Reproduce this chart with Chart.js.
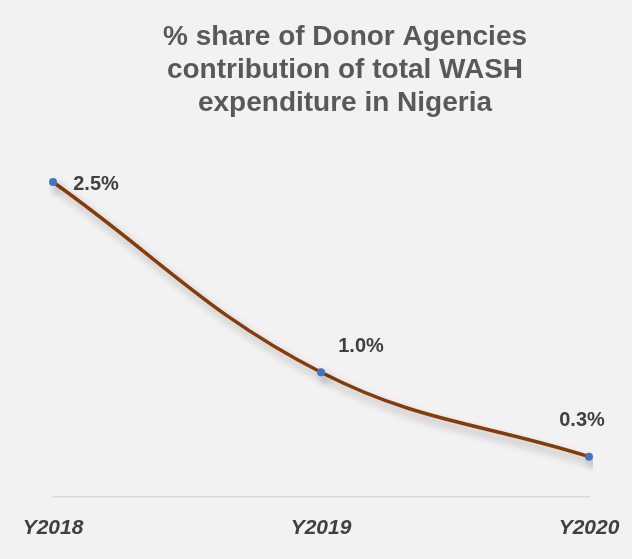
<!DOCTYPE html>
<html lang="en">
<head>
    <meta charset="UTF-8">
    <title>Donor Agencies share of WASH expenditure</title>
    <script src="https://cdn.jsdelivr.net/npm/chart.js"></script>
    <style>
        html, body {
        margin: 0;
        padding: 0;
        background: #f2f2f2;
        }
        #chartBox {
        width: 632px;
        height: 559px;
        }
    </style>
</head>
<body>
    <div id="chartBox"><canvas id="chart" width="632" height="559"></canvas></div>

    <script>
        // data
        const years = ['Y2018', 'Y2019', 'Y2020'];
        const donorShare = [2.5, 0.99, 0.32];
        const shareLabels = ['2.5%', '1.0%', '0.3%'];
        const titleLines = ['% share of Donor Agencies', 'contribution of total WASH', 'expenditure in Nigeria'];

        // where each value label sits relative to its point
        const labelOffsets = [[43, 2], [40, -26], [-7, -36]];

        // title drawn by hand so it can sit a little right of centre like the original
        const titlePlugin = {
            id: 'titleLines',
            afterDraw(chart) {
                const ctx = chart.ctx;
                ctx.save();
                ctx.fillStyle = '#595959';
                ctx.font = 'bold 28px "Liberation Sans", Arial, sans-serif';
                ctx.textAlign = 'center';
                ctx.textBaseline = 'alphabetic';
                titleLines.forEach((line, i) => {
                    ctx.fillText(line, 345, 45 + i * 33);
                });
                ctx.restore();
            }
        };

        // soft shadow under the line
        const shadowPlugin = {
            id: 'lineShadow',
            beforeDatasetDraw(chart) {
                const ctx = chart.ctx;
                ctx.save();
                ctx.shadowColor = 'rgba(0,0,0,0.3)';
                ctx.shadowBlur = 8;
                ctx.shadowOffsetX = 4;
                ctx.shadowOffsetY = 6;
            },
            afterDatasetDraw(chart) {
                chart.ctx.restore();
            }
        };

        const valueLabels = {
            id: 'valueLabels',
            afterDatasetsDraw(chart) {
                const ctx = chart.ctx;
                const meta = chart.getDatasetMeta(0);
                ctx.save();
                ctx.fillStyle = '#404040';
                ctx.font = 'bold 20px "Liberation Sans", Arial, sans-serif';
                ctx.textAlign = 'center';
                ctx.textBaseline = 'middle';
                meta.data.forEach((pt, i) => {
                    const off = labelOffsets[i];
                    ctx.fillText(shareLabels[i], pt.x + off[0], pt.y + off[1]);
                });
                ctx.restore();
            }
        };

        const ctx = document.getElementById('chart').getContext('2d');
        new Chart(ctx, {
            type: 'line',
            data: {
                labels: years,
                datasets: [{
                    data: donorShare,
                    borderColor: '#843c0c',
                    borderWidth: 3.5,
                    tension: 0.4,
                    fill: false,
                    pointRadius: 4,
                    pointBackgroundColor: '#4472c4',
                    pointBorderWidth: 0,
                    pointHoverRadius: 4
                }]
            },
            options: {
                responsive: false,
                animation: false,
                layout: { padding: { top: 119, left: 53, right: 43, bottom: 0 } },
                scales: {
                    x: {
                        offset: false,
                        grid: { display: false, drawTicks: false },
                        border: { display: true, color: '#d9d9d9', width: 1.5 },
                        ticks: {
                            padding: 20,
                            color: '#404040',
                            font: { family: '"Liberation Sans", Arial, sans-serif', size: 21, style: 'italic', weight: 'bold', lineHeight: 1.05 },
                            maxRotation: 0
                        },
                        // end labels may hang past the plot edge, as in the original
                        afterFit(scale) {
                            scale.paddingLeft = 0;
                            scale.paddingRight = 0;
                        }
                    },
                    y: {
                        display: false,
                        min: 0,
                        max: 3
                    }
                },
                plugins: {
                    legend: { display: false },
                    title: { display: false },
                    tooltip: { enabled: false }
                }
            },
            plugins: [shadowPlugin, valueLabels, titlePlugin]
        });
    </script>
</body>
</html>
